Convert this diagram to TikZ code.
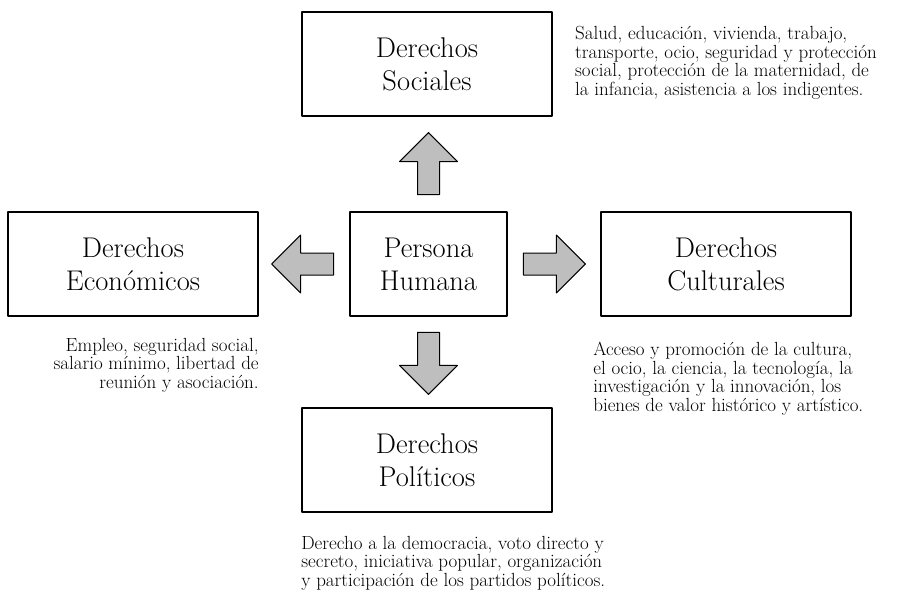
\documentclass[tikz,border=0pt]{standalone}
\usepackage{amsmath}
\usepackage{xcolor}
\usepackage{tikz}
\usetikzlibrary{arrows,positioning,calc,shapes.arrows}
\definecolor{arrowgray}{RGB}{190,190,190}

\begin{document}
\begin{tikzpicture}[line cap=round,line join=round,x=1pt,y=-1pt,
	box/.style={draw,line width=1.8pt,minimum width=250pt,minimum height=104pt,align=center,inner sep=0pt,font=\fontsize{28.5}{33}\selectfont},
	blockarrow/.style={single arrow,draw,line width=1pt,fill=arrowgray,inner xsep=0pt,inner ysep=10.5pt,minimum height=62pt,single arrow head extend=18pt,anchor=tail},
	desc/.style={inner sep=0pt,font=\fontsize{19}{18.5}\selectfont}]
	\useasboundingbox (0,0) rectangle (907,596);
	% boxes
	\node[box] (soc) at (427,64) {Derechos\\Sociales};
	\node[box] (eco) at (133,264) {Derechos\\Econ\'omicos};
	\node[box,minimum width=157pt] (per) at (428.5,264) {Persona\\Humana};
	\node[box] (cul) at (726,264) {Derechos\\Culturales};
	\node[box] (pol) at (427,460) {Derechos\\Pol\'iticos};
	% arrows
	\node[blockarrow,rotate=90] (aup) at ([yshift=16pt]per.north) {};
	\node[blockarrow,rotate=180] (aleft) at ([xshift=-15pt]per.west) {};
	\node[blockarrow] (aright) at ([xshift=15pt]per.east) {};
	\node[blockarrow,rotate=270] (adown) at ([yshift=-15pt]per.south) {};
	% descriptions
	\node[desc,anchor=north west,align=left] (socdesc) at ([xshift=22pt,yshift=-15pt]soc.north east) {Salud, educaci\'on, vivienda, trabajo,\\transporte, ocio, seguridad y protecci\'on\\social, protecci\'on de la maternidad, de\\la infancia, asistencia a los indigentes.};
	\node[desc,anchor=north east,align=right] (ecodesc) at ([yshift=-21pt]eco.south east) {Empleo, seguridad social,\\salario m\'inimo, libertad de\\reuni\'on y asociaci\'on.};
	\node[desc,anchor=north west,align=left] (culdesc) at ([xshift=-7pt,yshift=-25pt]cul.south west) {Acceso y promoci\'on de la cultura,\\el ocio, la ciencia, la tecnolog\'ia, la\\investigaci\'on y la innovaci\'on, los\\bienes de valor hist\'orico y art\'istico.};
	\node[desc,anchor=north west,align=left] (poldesc) at ([yshift=-23pt]pol.south west) {Derecho a la democracia, voto directo y\\secreto, iniciativa popular, organizaci\'on\\y participaci\'on de los partidos pol\'iticos.};
\end{tikzpicture}
\end{document}
